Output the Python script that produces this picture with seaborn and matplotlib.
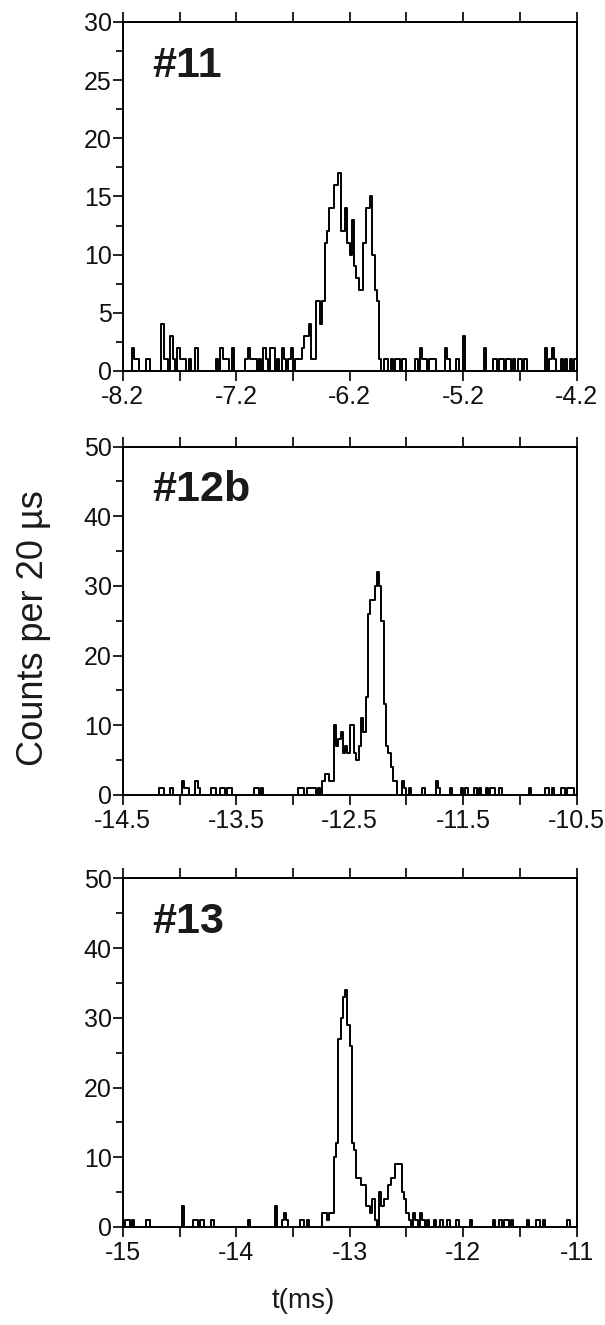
import numpy as np
import pandas as pd
import matplotlib
matplotlib.use("Agg")
import matplotlib.pyplot as plt
import seaborn as sns

BIN_MS = 0.02  # 20 us bins

# (bin number, counts) of the non-empty bins; bin 0 starts at the left axis limit
hist_11 = [(4, 2), (5, 1), (6, 1), (10, 1), (11, 1), (17, 4), (18, 1), (19, 1), (21, 3), (22, 1),
           (24, 2), (25, 1), (26, 1), (27, 1), (29, 1), (32, 2), (41, 1), (43, 2), (44, 1), (45, 1),
           (46, 1), (48, 2), (54, 1), (55, 2), (56, 1), (57, 1), (58, 1), (60, 1), (62, 2), (63, 1),
           (65, 2), (66, 2), (68, 1), (70, 2), (71, 1), (73, 1), (74, 2),
           (76, 1), (77, 1), (78, 1), (79, 2), (80, 3), (81, 3), (82, 4), (83, 1), (84, 1), (85, 6),
           (86, 6), (87, 4), (88, 6), (89, 11), (90, 12), (91, 14), (92, 14), (93, 16), (94, 16),
           (95, 17), (96, 12), (97, 12), (98, 14), (99, 11), (100, 10), (101, 13), (102, 9), (103, 8),
           (104, 7), (105, 7), (106, 11), (107, 14), (108, 14), (109, 15), (110, 10), (111, 7),
           (112, 6), (113, 1),
           (115, 1), (116, 1), (118, 1), (120, 1), (121, 1), (123, 1), (124, 1), (129, 1), (131, 2),
           (132, 1), (133, 1), (135, 1), (136, 1), (137, 1), (142, 2), (143, 1), (147, 1), (150, 3),
           (159, 2), (163, 1), (164, 1), (166, 1), (167, 1), (169, 1), (170, 1), (172, 1), (174, 1),
           (175, 1), (177, 1), (186, 2), (188, 1), (189, 2), (190, 1), (193, 1), (195, 1), (197, 1),
           (199, 1)]

hist_12b = [(16, 1), (17, 1), (21, 1), (26, 2), (27, 1), (28, 1), (32, 2), (33, 1), (39, 1), (40, 1),
            (43, 1), (44, 1), (46, 1), (47, 1), (58, 1), (59, 1), (61, 1), (77, 1), (78, 1), (79, 1),
            (81, 1), (82, 1), (83, 1), (84, 1), (86, 1), (88, 2),
            (89, 3), (90, 3), (91, 2), (92, 2), (93, 10), (94, 7), (95, 8), (96, 9), (97, 6), (98, 7),
            (99, 6), (100, 10), (101, 10), (102, 6), (103, 5), (104, 7), (105, 11), (106, 9),
            (107, 14), (108, 26), (109, 28), (110, 28), (111, 30), (112, 32), (113, 30), (114, 25),
            (115, 13), (116, 7), (117, 6), (118, 4), (119, 2), (120, 2),
            (123, 2), (124, 1), (126, 1), (132, 1), (138, 2), (139, 1), (144, 1), (149, 1), (151, 1),
            (155, 1), (157, 1), (160, 1), (162, 1), (163, 1), (166, 1), (179, 1), (186, 1), (187, 1),
            (189, 1), (193, 1), (194, 1), (196, 1), (197, 1), (198, 1)]

hist_13 = [(1, 1), (2, 1), (4, 1), (10, 1), (11, 1), (26, 3), (31, 1), (32, 1), (34, 1), (35, 1),
           (39, 1), (55, 1), (67, 3), (70, 1), (71, 2), (72, 1), (78, 1), (79, 1), (81, 1), (88, 2),
           (89, 2), (90, 1), (91, 2), (92, 2),
           (93, 10), (94, 12), (95, 27), (96, 30), (97, 33), (98, 34), (99, 29), (100, 26), (101, 12),
           (102, 11), (103, 7), (104, 7), (105, 6), (106, 6), (107, 3), (108, 3), (109, 2), (110, 4),
           (111, 1), (113, 5), (114, 3), (115, 4), (116, 4), (117, 6), (118, 7), (119, 7), (120, 9),
           (121, 9), (122, 9), (123, 5), (124, 4), (125, 2), (126, 1), (128, 2), (129, 1),
           (131, 2), (132, 1), (134, 1), (137, 1), (140, 1), (143, 1), (147, 1), (153, 1), (163, 1),
           (166, 1), (168, 1), (169, 1), (171, 1), (178, 1), (182, 1), (183, 1), (185, 1), (196, 1)]

names = ["#11", "#12b", "#13"]
x_start = [-8.2, -14.5, -15.0]
y_max = [30, 50, 50]
y_step = [5, 10, 10]
xlabels_11 = ["-8.2", "-7.2", "-6.2", "-5.2", "-4.2"]
xlabels_12b = ["-14.5", "-13.5", "-12.5", "-11.5", "-10.5"]
xlabels_13 = ["-15", "-14", "-13", "-12", "-11"]

sns.set_style("ticks")
plt.rcParams["font.family"] = ["Liberation Sans", "DejaVu Sans"]
plt.rcParams["axes.unicode_minus"] = False

fig = plt.figure(figsize=(6.05, 13.25), dpi=100)
boxes = [[0.203, 0.720, 0.750, 0.2634],
         [0.203, 0.400, 0.750, 0.2630],
         [0.203, 0.074, 0.750, 0.2630]]

panels = zip([hist_11, hist_12b, hist_13], names, x_start, y_max, y_step,
             [xlabels_11, xlabels_12b, xlabels_13])

for k, (hist, name, start, top, step, labels) in enumerate(panels):
    ax = fig.add_axes(boxes[k])
    df = pd.DataFrame(hist, columns=["bin", "n"])
    df["t"] = start + (df["bin"] + 0.5) * BIN_MS
    sns.histplot(data=df, x="t", weights="n", binwidth=BIN_MS, binrange=(start, start + 4),
                 element="step", fill=False, color="black", linewidth=1.4, ax=ax)

    ax.set_xlim(start, start + 4)
    ax.set_ylim(0, top)
    ax.set_xticks(start + np.arange(5), labels)
    ax.set_xticks(start + 0.5 + np.arange(4), minor=True)
    ax.set_yticks(np.arange(0, top + 1, step))
    ax.set_yticks(np.arange(step / 2, top, step), minor=True)
    ax.set_xlabel("")
    ax.set_ylabel("")

    # ticks point outwards, top axis ticked every 0.5 ms too
    ax.tick_params(which="both", direction="out", width=1.3, labelsize=18, colors="#111111")
    ax.tick_params(which="major", length=7)
    ax.tick_params(axis="x", which="both", length=7, top=True, pad=3)
    ax.tick_params(axis="y", which="minor", length=5)
    ax.tick_params(axis="y", pad=1)
    for s in ax.spines.values():
        s.set_linewidth(1.4)
        s.set_color("black")

    ax.text(0.064, 0.843, name, transform=ax.transAxes, fontsize=31, fontweight="bold",
            color="#1a1a1a")

fig.text(0.055, 0.526, "Counts per 20 µs", rotation=90, ha="center", va="center",
         fontsize=26, color="#1a1a1a")
fig.text(0.502, 0.018, "t(ms)", ha="center", va="center", fontsize=20, color="#1a1a1a")

fig.savefig("out.png", dpi=100)
